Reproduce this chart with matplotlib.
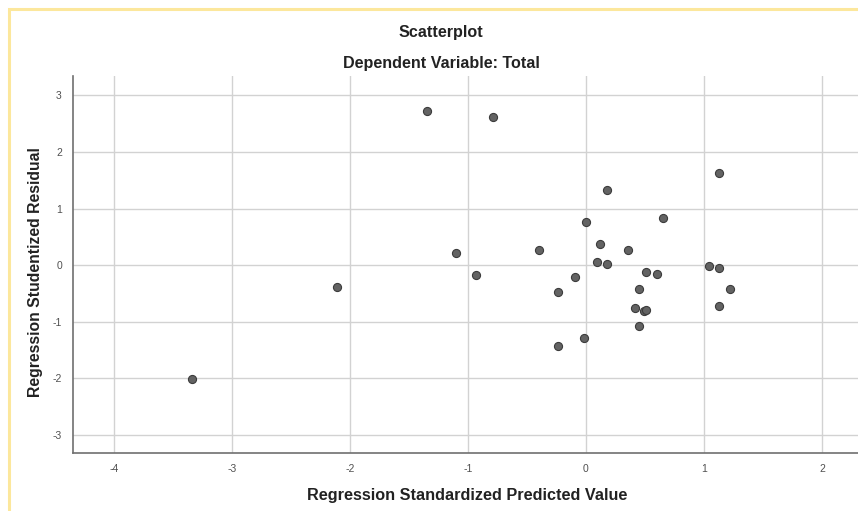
import matplotlib
matplotlib.use("Agg")
import matplotlib.pyplot as plt
from matplotlib.patches import Rectangle

plt.rcParams['font.family'] = ['Liberation Sans', 'DejaVu Sans']
plt.rcParams['axes.unicode_minus'] = False

# standaryzowane wartości przewidywane (x) i reszty studentyzowane (y)
predicted = [-3.34, -2.11, -1.35, -0.79, -1.10, -0.93, -0.40, -0.24, -0.24, -0.09,
             -0.02, 0.00, 0.09, 0.12, 0.18, 0.18, 0.36, 0.42, 0.45, 0.45,
             0.49, 0.51, 0.51, 0.60, 0.65, 1.04, 1.13, 1.13, 1.13, 1.22]
residual = [-2.01, -0.38, 2.72, 2.62, 0.22, -0.18, 0.26, -0.47, -1.44, -0.21,
            -1.29, 0.76, 0.05, 0.37, 1.33, 0.01, 0.27, -0.76, -0.42, -1.08,
            -0.81, -0.80, -0.12, -0.16, 0.84, -0.02, 1.62, -0.05, -0.72, -0.43]

x_ticks = [-4, -3, -2, -1, 0, 1, 2]
y_ticks = [-3, -2, -1, 0, 1, 2, 3]

fig = plt.figure(figsize=(8.58, 5.11), dpi=100)
fig.patch.set_facecolor("white")

# żółta ramka (przycięta z prawej i u dołu)
fig.patches.append(Rectangle((9 / 858, -0.05), 1.2, 1 - 9 / 511 + 0.05,
                             transform=fig.transFigure, fill=False,
                             edgecolor="#fce79c", linewidth=2.2))

ax = fig.add_axes([73 / 858, 1 - 452.7 / 511, 1 - 73 / 858, (452.7 - 76) / 511])
ax.scatter(predicted, residual, s=34, c="#636363", edgecolors="#3c3c3c",
           linewidths=0.8, zorder=3)

ax.set_xlim(-4.345, 2.305)
ax.set_ylim(-3.32, 3.345)
ax.set_xticks(x_ticks)
ax.set_yticks(y_ticks)
ax.tick_params(length=0, labelsize=7.5, labelcolor="#505050", pad=8)
ax.grid(True, color="#d2d2d2", linewidth=1.0)
ax.set_axisbelow(True)
for side in ["top", "right"]:
    ax.spines[side].set_visible(False)
for side in ["left", "bottom"]:
    ax.spines[side].set_color("#707070")
    ax.spines[side].set_linewidth(1.2)

fig.text(441 / 858, 1 - 33 / 511, "Scatterplot", ha="center", va="center",
         fontsize=11.6, fontweight="bold", color="#222222")
fig.text(441 / 858, 1 - 63 / 511, "Dependent Variable: Total", ha="center",
         va="center", fontsize=11.6, fontweight="bold", color="#222222")
fig.text(467 / 858, 1 - 495 / 511, "Regression Standardized Predicted Value",
         ha="center", va="center", fontsize=11.7, fontweight="bold", color="#222222")
fig.text(36 / 858, 1 - 272 / 511, "Regression Studentized Residual", ha="center",
         va="center", rotation=90, fontsize=11.3, fontweight="bold", color="#222222")

fig.savefig("out.png", dpi=100)
